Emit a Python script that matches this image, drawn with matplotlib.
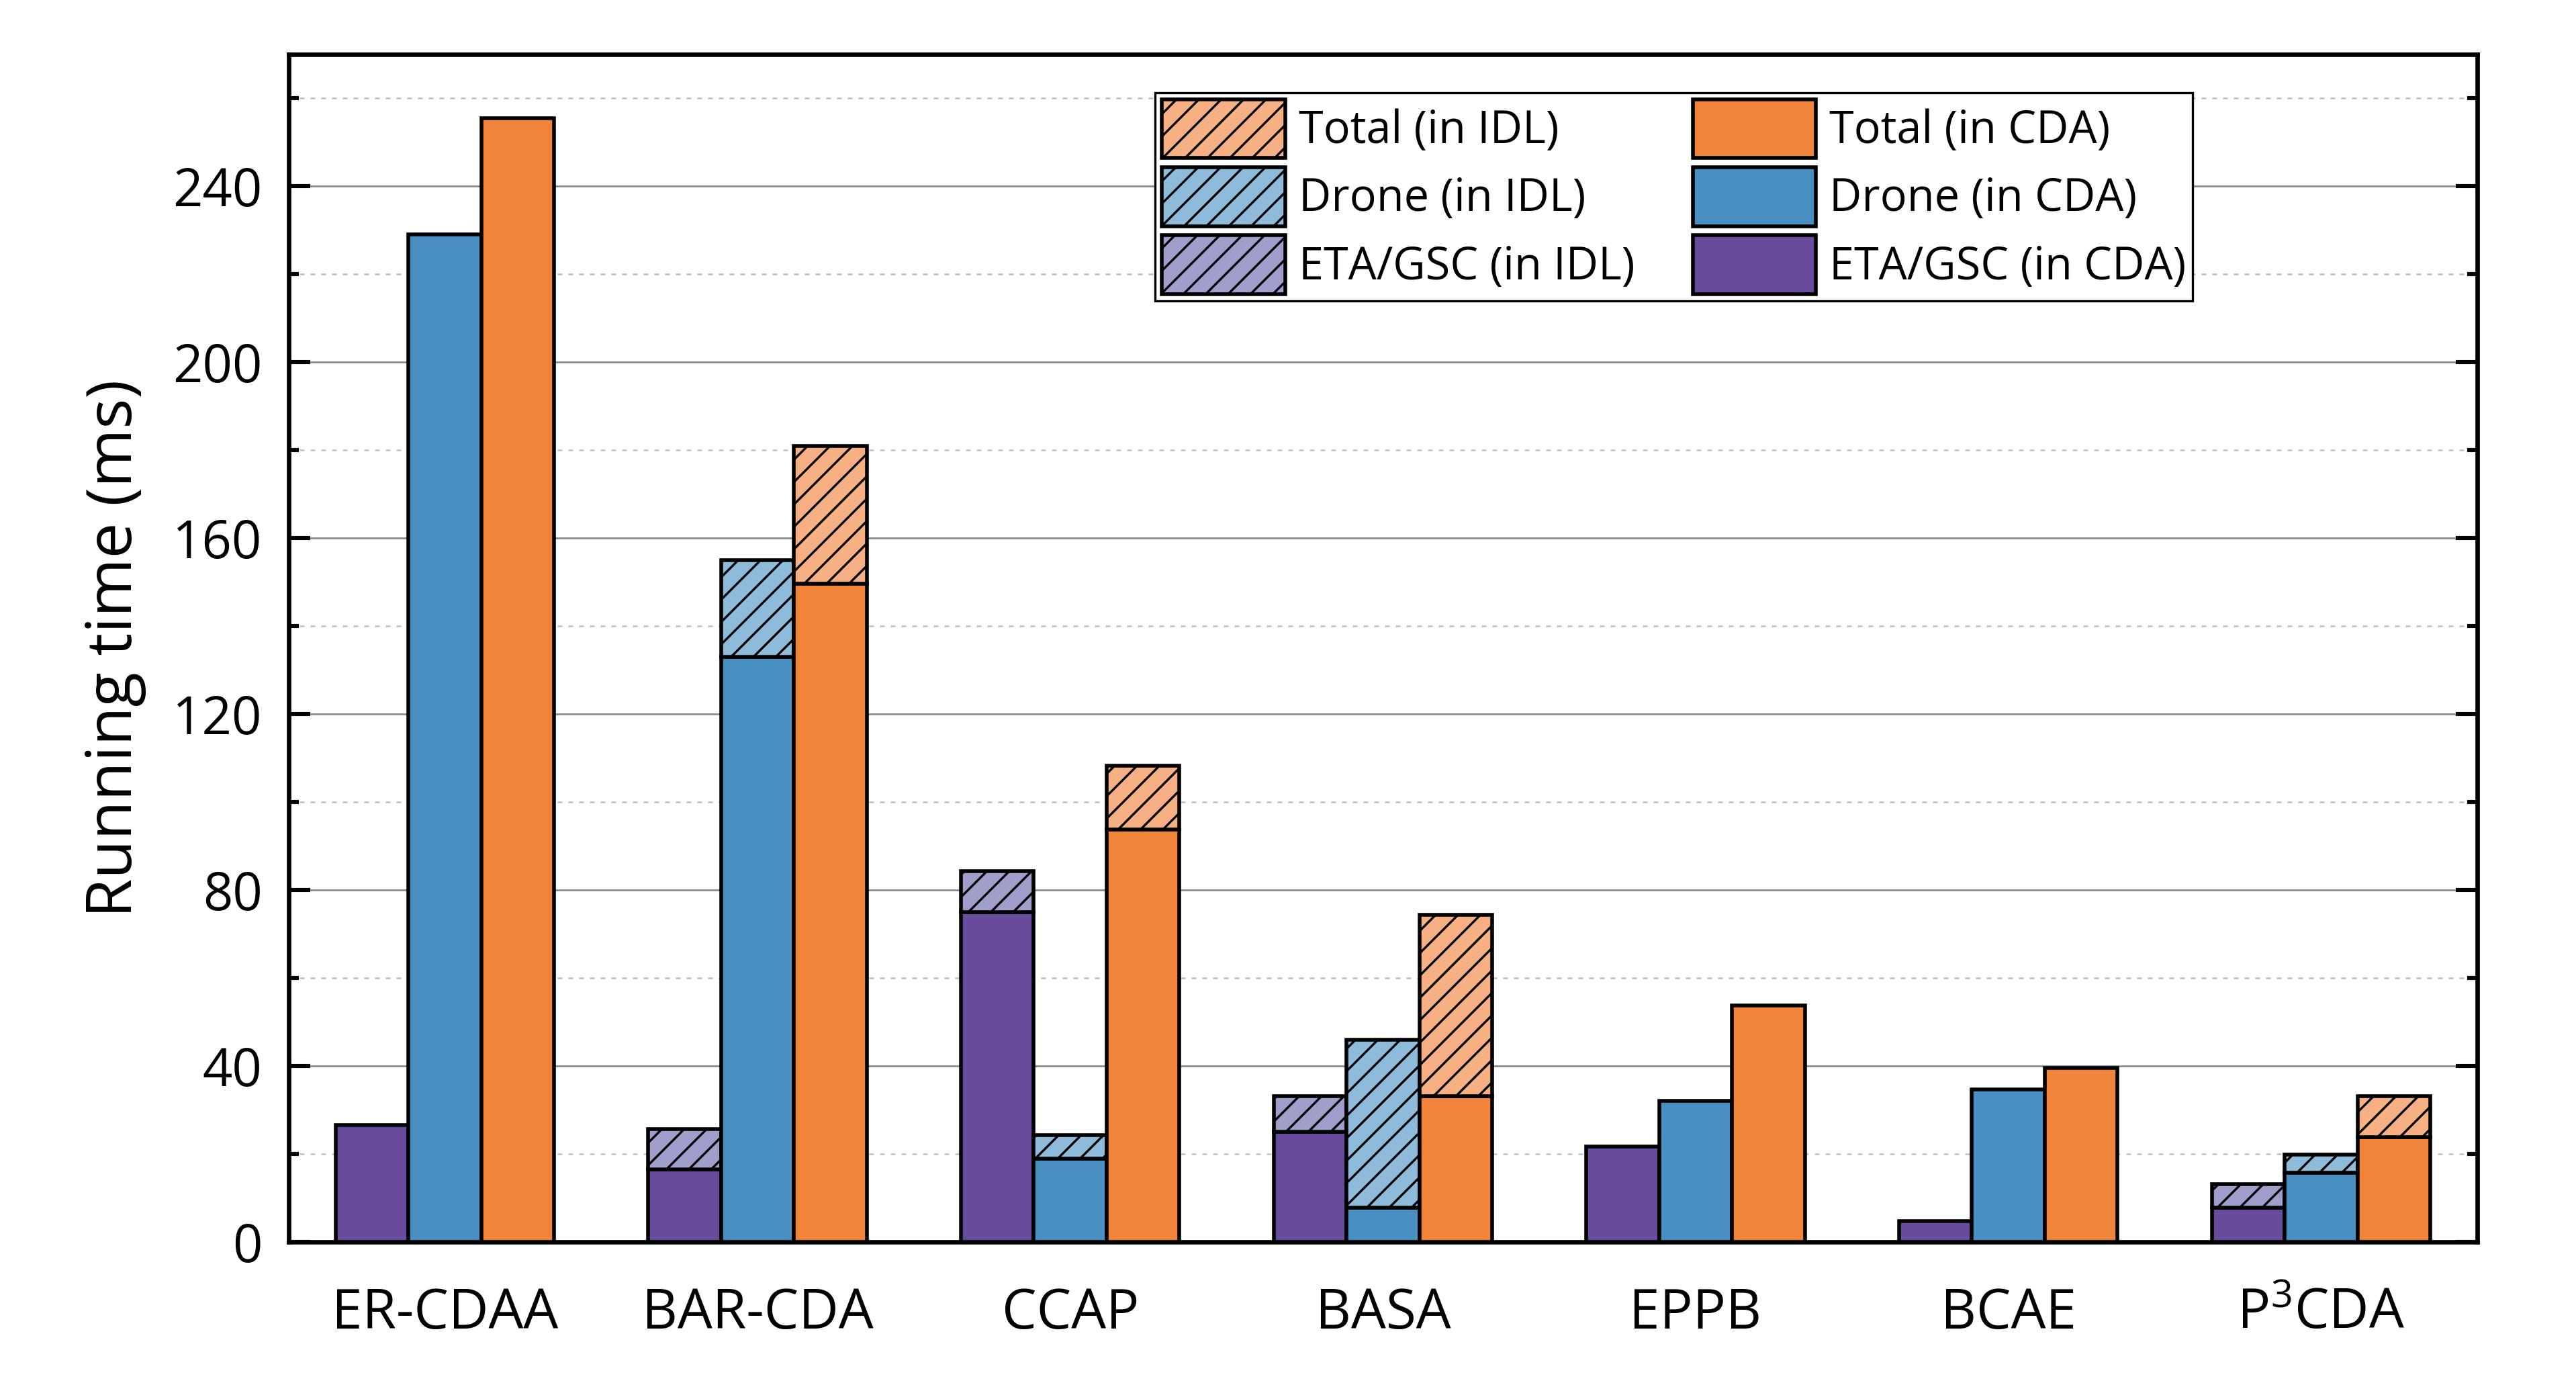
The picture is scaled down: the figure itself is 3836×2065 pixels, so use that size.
import numpy as np
import matplotlib.pyplot as plt
from matplotlib.ticker import MultipleLocator

plt.rcParams['font.family'] = ['Open Sans', 'DejaVu Sans']
plt.rcParams['mathtext.fontset'] = 'custom'
plt.rcParams['mathtext.rm'] = 'Open Sans'
plt.rcParams['hatch.linewidth'] = 1.2

# data (ms)
methods = ["ER-CDAA", "BAR-CDA", "CCAP", "BASA", "EPPB", "BCAE", "P$^3$CDA"]
eta_cda = [26.5, 16.5, 75.0, 25.0, 21.7, 4.8, 7.8]
eta_idl = [26.5, 25.7, 84.3, 33.2, 21.7, 4.8, 13.2]
drone_cda = [229.0, 133.0, 19.0, 7.8, 32.0, 34.7, 15.8]
drone_idl = [229.0, 155.0, 24.3, 45.9, 32.0, 34.7, 19.8]
total_cda = [255.5, 149.7, 93.8, 33.2, 53.7, 39.5, 23.8]
total_idl = [255.5, 181.0, 108.3, 74.3, 53.7, 39.5, 33.1]

# colours
purple, purple_l = "#684B9D", "#A09FCB"
blue, blue_l = "#4A8FC2", "#8FBBDA"
orange, orange_l = "#F0843B", "#F6B084"

x = np.arange(len(methods))
w = 0.233

fig = plt.figure(figsize=(19.18, 10.325), dpi=200)
ax = fig.add_axes([0.112, 0.1046, 0.8497, 0.8562])

series = [
    ("ETA/GSC", eta_cda, eta_idl, -w, purple, purple_l),
    ("Drone", drone_cda, drone_idl, 0.0, blue, blue_l),
    ("Total", total_cda, total_idl, w, orange, orange_l),
]
h_cda, h_idl = {}, {}
for name, cda, idl, off, col, col_l in series:
    cda = np.array(cda)
    idl = np.array(idl)
    h_cda[name] = ax.bar(x + off, cda, w, color=col, edgecolor="black",
                         linewidth=2.0, zorder=3)
    extra = idl - cda
    m = extra > 0
    h_idl[name] = ax.bar(x[m] + off, extra[m], w, bottom=cda[m], color=col_l,
                         edgecolor="black", hatch="//", linewidth=2.0, zorder=3)

order = ["Total", "Drone", "ETA/GSC"]
handles = [h_idl[n] for n in order] + [h_cda[n] for n in order]
labels = [f"{n} (in IDL)" for n in order] + [f"{n} (in CDA)" for n in order]
leg = ax.legend(handles, labels, ncol=2, loc="upper left",
                bbox_to_anchor=(0.396, 0.968), fontsize=24, frameon=True,
                fancybox=False, edgecolor="black", framealpha=1,
                handlelength=2.75, handleheight=1.65, handletextpad=0.3,
                labelspacing=0.2, columnspacing=1.3, borderpad=0.15,
                borderaxespad=0)
leg.get_frame().set_linewidth(1.2)

ax.set_xlim(-0.5, 6.5)
ax.set_ylim(0, 270)
ax.set_xticks(x)
ax.set_xticklabels(methods)
ax.yaxis.set_major_locator(MultipleLocator(40))
ax.yaxis.set_minor_locator(MultipleLocator(20))

ax.tick_params(axis="y", which="major", direction="in", length=11.5, width=2.2,
               right=True, labelsize=28, pad=14)
ax.tick_params(axis="y", which="minor", direction="in", length=5.4, width=2.2,
               right=True)
ax.tick_params(axis="x", length=0, labelsize=29.5, pad=24)

ax.set_axisbelow(True)
ax.yaxis.grid(True, which="major", color="#8c8c8c", linewidth=1.0)
ax.yaxis.grid(True, which="minor", color="#c0c0c0", linewidth=0.9,
              linestyle=(0, (2.8, 3.6)))

for s in ["left", "bottom", "top", "right"]:
    ax.spines[s].set_linewidth(2.4)

ax.set_ylabel("Running time (ms)", fontsize=34, labelpad=14)

fig.savefig("out.png", dpi=200)
